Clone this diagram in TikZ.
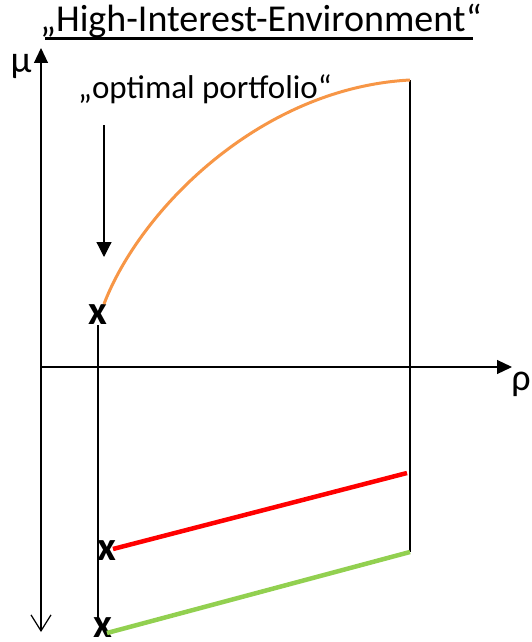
\documentclass[tikz,border=0pt]{standalone}
\usepackage{fontspec}
\setmainfont{Carlito}
\usetikzlibrary{arrows.meta}
\definecolor{curveorange}{HTML}{F79646}
\definecolor{lowred}{HTML}{FF0000}
\definecolor{lowgreen}{HTML}{92D050}
\tikzset{
  axisline/.style={black, line width=1.2pt},
  thinline/.style={black, line width=1.5pt},
  xmark/.style={font=\fontsize{41}{41}\selectfont\bfseries, inner sep=0pt},
  lbl/.style={inner sep=0pt, anchor=base},
}
\begin{document}
\begin{tikzpicture}[x=1pt,y=-1pt]
\useasboundingbox (0,0) rectangle (532,642);
% title
\node[lbl, font=\fontsize{38}{38}\selectfont] (title) at (261,32) {„High-Interest-Environment“};
\coordinate (ulleft) at (45,38.5);
\coordinate (ulright) at (473,38.5);
\draw[black, line width=2.2pt] (ulleft) -- (ulright);
% axes
\coordinate (ytop) at (41,48);
\coordinate (ybot) at (41,632);
\coordinate (origin) at (41,367);
\coordinate (xend) at (512,367);
\draw[axisline, {Straight Barb[length=16pt,width=20pt]}-{Triangle[length=15pt,width=14pt]}] (ybot) -- (ytop);
\draw[axisline, -{Triangle[length=15pt,width=14pt]}] (origin) -- (xend);
\node[lbl, font=\fontsize{38}{38}\selectfont] (mu) at (21,72) {μ};
\node[lbl, font=\fontsize{38}{38}\selectfont] (rho) at (521,390) {ρ};
% label and arrow
\node[lbl, font=\fontsize{33}{33}\selectfont] (opt) at (205,98) {„optimal portfolio“};
\coordinate (arrtop) at (104,125);
\coordinate (arrtip) at (104,257);
\draw[axisline, -{Triangle[length=15pt,width=15pt]}] (arrtop) -- (arrtip);
% x marks
\node[xmark] (xa) at (98,315) {x};
\node[xmark] (xb) at (107,551) {x};
\node[xmark] (xc) at (103,628) {x};
% right vertical line
\coordinate (rtop) at (410,80);
\coordinate (rbot) at (410,552);
\draw[thinline] (rtop) -- (rbot);
% left vertical line
\coordinate (ltop) at (98,325);
\coordinate (lbot) at (98,618);
\draw[thinline] (ltop) -- (lbot);
% curves
\coordinate (cstart) at (104,304);
\coordinate (rred) at (407,473);
\coordinate (lred) at (113,549);
\coordinate (lgreen) at (107,633);
\draw[curveorange, line width=3pt] (cstart) .. controls (140,210) and (260,88) .. (rtop);
\draw[lowred, line width=4.5pt] (lred) -- (rred);
\draw[lowgreen, line width=4.5pt] (lgreen) -- (rbot);
\end{tikzpicture}
\end{document}
